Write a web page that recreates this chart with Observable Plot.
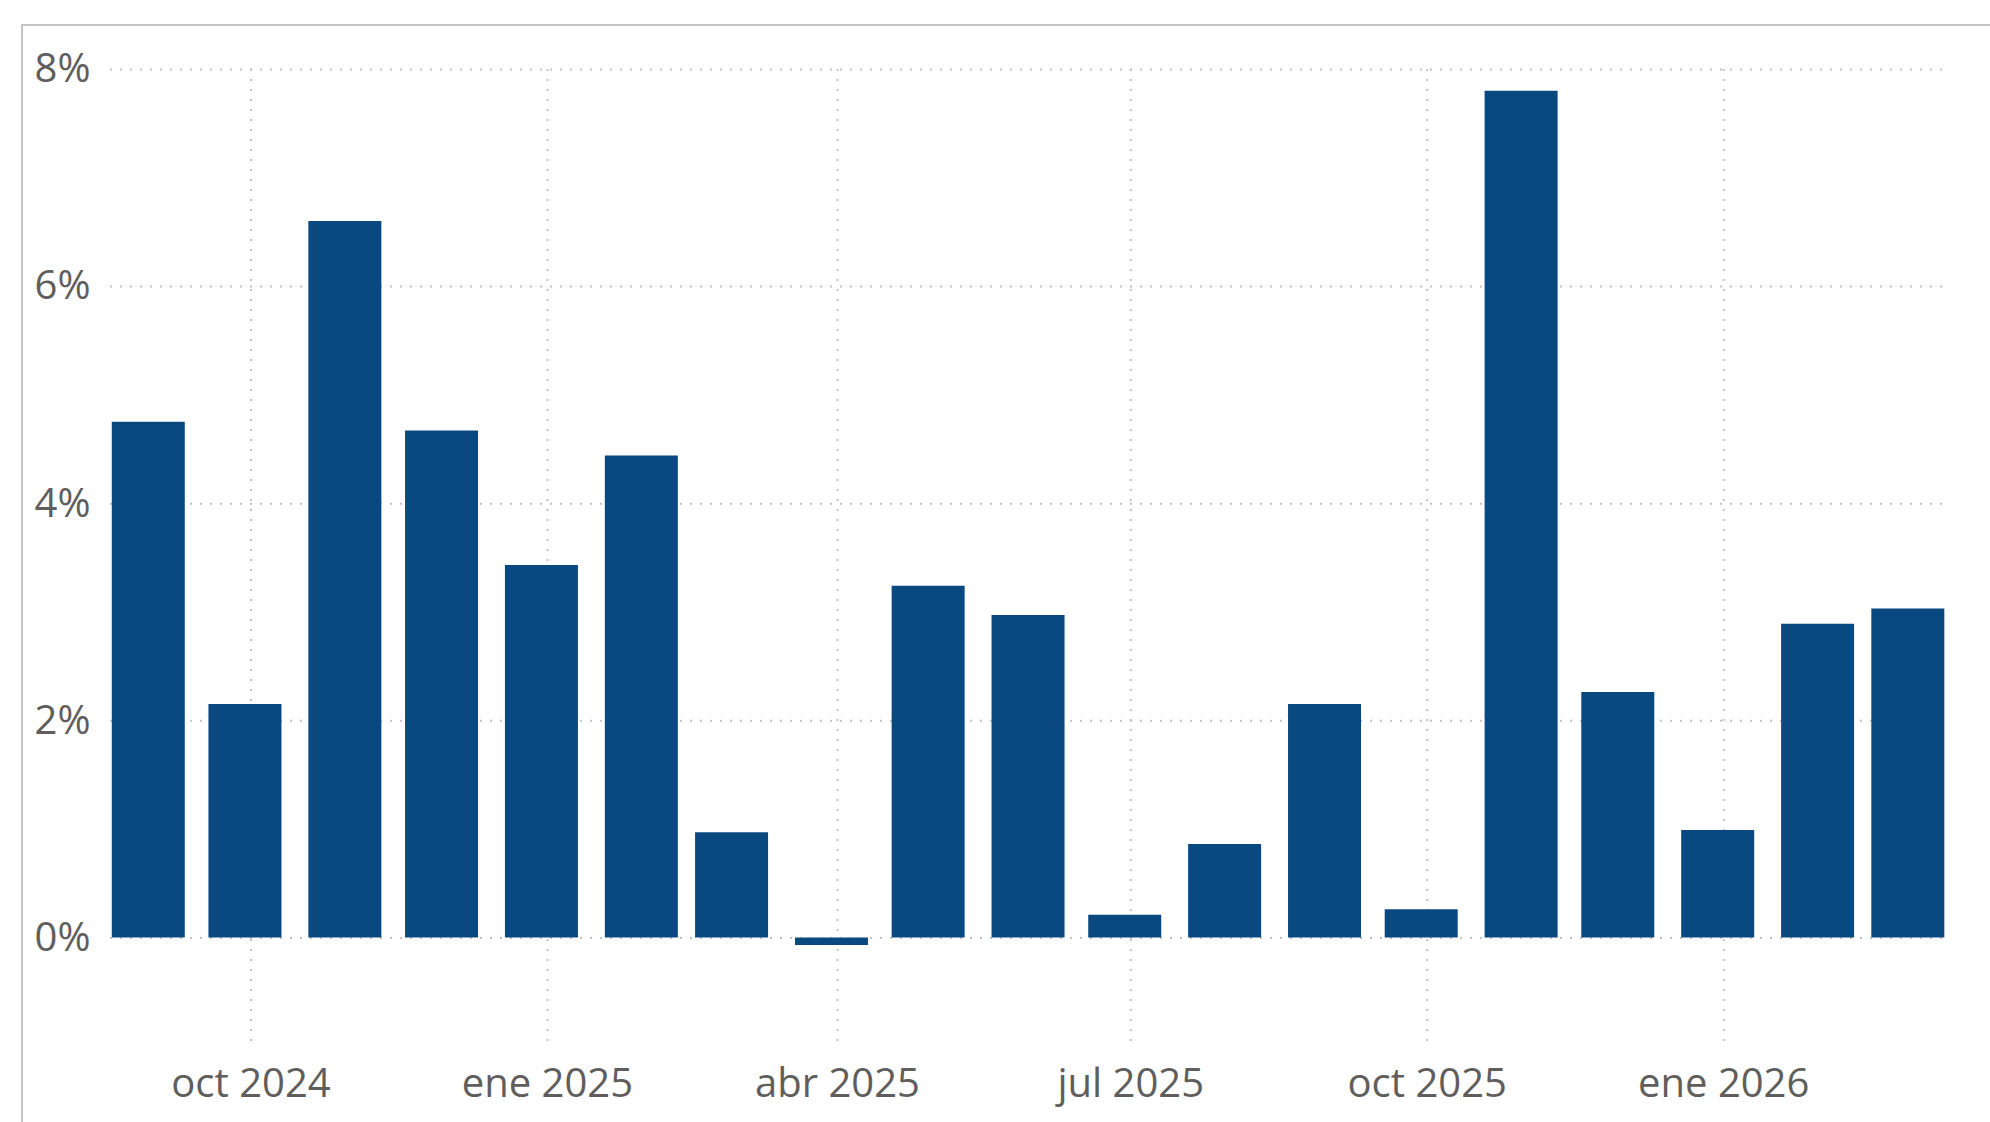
<!DOCTYPE html>
<html>
<head>
<meta charset="utf-8">
<script src="https://cdn.jsdelivr.net/npm/d3@7"></script>
<script src="https://cdn.jsdelivr.net/npm/@observablehq/plot@0.6"></script>
<style>
  html, body { margin: 0; padding: 0; background: #ffffff; overflow: hidden; width: 1990px; height: 1122px; }
  #frame { position: absolute; left: 21px; top: 24px; width: 2100px; height: 1200px;
           border-left: 2px solid #c4c4c4; border-top: 2px solid #c4c4c4; box-sizing: border-box; }
  #chart { position: absolute; left: 0; top: 0; }
</style>
</head>
<body>
<div id="frame"></div>
<div id="chart"></div>
<script>
// Monthly values (%), Sep 2024 – Mar 2026
const months = [
  "2024-09-01","2024-10-01","2024-11-01","2024-12-01",
  "2025-01-01","2025-02-01","2025-03-01","2025-04-01","2025-05-01","2025-06-01",
  "2025-07-01","2025-08-01","2025-09-01","2025-10-01","2025-11-01","2025-12-01",
  "2026-01-01","2026-02-01","2026-03-01"
];
const values = [4.75, 2.15, 6.60, 4.67, 3.43, 4.44, 0.97, -0.07, 3.24, 2.97,
                0.21, 0.86, 2.15, 0.26, 7.80, 2.26, 0.99, 2.89, 3.03];

const xTickDates = ["2024-10-01","2025-01-01","2025-04-01","2025-07-01","2025-10-01","2026-01-01"];
const xTickLabels = ["oct 2024","ene 2025","abr 2025","jul 2025","oct 2025","ene 2026"];
const yTicks = [0, 2, 4, 6, 8];

const data = months.map((m, i) => ({date: new Date(m + "T00:00:00Z"), value: values[i]}));
const xTicks = xTickDates.map(d => new Date(d + "T00:00:00Z"));

const gridStyle = {stroke: "#c2c2c2", strokeOpacity: 1, strokeWidth: 2, strokeDasharray: "2,8"};
const font = "'Segoe UI', 'Open Sans', sans-serif";

const chart = Plot.plot({
  width: 1990,
  height: 1122,
  marginLeft: 110,
  marginRight: 47,
  marginTop: 69,
  marginBottom: 76,
  style: {fontFamily: font, color: "#605e5c", background: "transparent"},
  x: {type: "utc", label: null, domain: [new Date(Date.UTC(2024, 7, 18, 10)), new Date(Date.UTC(2026, 2, 10, 5))]},
  y: {label: null, domain: [-1, 8]},
  marks: [
    Plot.gridY(yTicks, gridStyle),
    Plot.gridX(xTicks, gridStyle),
    Plot.ruleX(data, {x: "date", y1: 0, y2: "value", stroke: "#0a4880", strokeWidth: 73, dx: -6}),
    Plot.axisY(yTicks, {label: null, tickSize: 0, tickPadding: 20, fontSize: 40, tickFormat: d => d + "%", fill: "#605e5c"}),
    Plot.axisX(xTicks, {label: null, tickSize: 0, tickPadding: 22, fontSize: 40, fill: "#605e5c",
      tickFormat: d => xTickLabels[xTicks.findIndex(t => +t === +d)]})
  ]
});
document.getElementById("chart").appendChild(chart);
</script>
</body>
</html>
